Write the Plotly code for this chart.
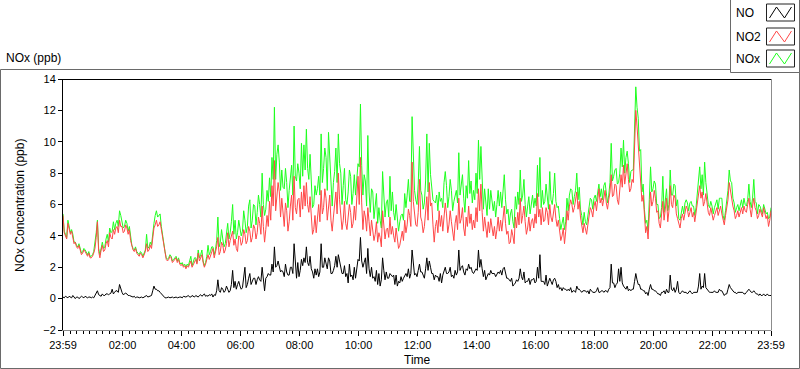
import plotly.graph_objects as go
import pandas as pd

# ---------------- data (2.5-minute samples, 23:59 -> 23:59) ----------------
START = "2013-06-01 23:59"
STEP = "150s"

no2 = [
    5.3,4.2,4.0,3.8,4.8,4.5,4.1,4.3,3.9,3.5,3.6,3.3,3.2,3.4,3.1,2.8,2.9,3.1,3.0,2.8,2.7,2.9,2.6,2.6,
    2.7,2.9,3.2,3.9,4.9,3.0,2.6,3.1,3.4,3.0,3.1,3.5,3.7,3.3,4.2,3.9,3.8,4.4,4.1,4.5,4.6,4.2,5.0,4.6,
    4.6,4.2,4.3,4.7,4.5,4.1,4.4,3.7,3.3,3.1,3.0,3.2,2.9,2.8,2.7,2.9,2.8,2.6,2.8,3.0,3.5,3.0,3.1,3.4,
    3.2,3.9,4.5,4.7,5.0,4.6,4.7,4.9,4.4,3.8,3.3,2.9,2.5,2.4,2.5,2.7,2.6,2.3,2.4,2.5,2.6,2.3,2.5,2.2,
    2.1,2.2,2.0,2.1,1.9,2.1,2.0,2.2,2.4,2.0,2.2,2.4,2.5,2.2,2.9,2.4,2.6,2.8,2.3,2.0,2.2,2.5,2.8,2.5,
    2.7,3.0,3.2,2.6,2.9,3.3,3.9,2.8,3.0,3.6,3.4,2.9,3.1,3.5,4.2,3.3,3.7,4.0,4.3,3.4,3.8,3.2,3.0,4.0,
    3.9,3.4,3.6,4.4,4.1,3.5,3.7,4.6,4.3,3.6,3.9,4.7,4.5,3.8,4.2,5.2,4.8,4.1,5.9,4.6,3.6,4.4,5.3,4.6,
    6.2,5.0,7.2,5.9,8.8,5.6,6.3,7.4,6.8,5.2,6.4,5.4,4.6,6.1,5.6,4.3,4.9,5.9,6.6,5.0,7.8,5.8,5.4,6.3,
    6.4,5.2,6.8,5.7,7.2,5.9,7.4,6.0,5.5,6.5,5.0,4.1,4.4,5.3,4.2,5.1,6.0,4.9,6.9,5.4,5.8,7.0,6.4,5.0,
    5.7,6.6,5.0,4.3,5.2,6.0,6.8,5.4,8.0,6.3,5.5,4.4,5.0,6.2,4.8,4.4,5.2,6.0,5.5,4.5,4.8,5.9,5.0,6.1,
    7.8,6.0,9.0,6.1,4.4,5.6,5.2,4.3,5.8,4.9,4.0,5.0,4.4,3.7,4.1,4.9,3.6,4.2,3.9,3.3,5.6,4.5,3.8,4.4,
    4.5,3.9,5.2,4.1,4.6,4.0,3.6,4.5,3.9,3.2,3.4,3.9,4.3,3.7,5.0,4.2,4.7,5.7,5.3,4.6,8.7,6.2,5.4,4.7,
    4.6,5.5,7.6,5.2,4.9,4.2,4.6,5.6,6.5,5.0,7.4,5.9,6.1,4.7,3.6,4.6,5.0,4.2,5.6,4.6,5.3,4.3,5.0,6.1,
    5.4,4.2,4.7,5.6,4.9,4.1,3.7,4.8,5.3,4.4,6.4,4.8,5.1,5.8,4.5,4.0,5.2,4.6,5.9,4.8,5.4,4.4,5.0,4.5,
    5.8,4.9,7.0,5.6,7.3,5.5,4.3,5.2,4.5,3.9,4.9,4.2,5.1,4.4,4.0,4.6,3.8,4.4,5.2,4.3,5.0,4.3,5.4,5.9,
    4.8,4.1,4.3,3.5,3.6,4.4,4.0,3.5,5.2,4.5,5.5,4.7,6.4,4.8,5.3,5.9,4.9,4.1,4.5,5.2,4.3,4.9,5.1,4.5,
    5.4,4.8,6.7,5.2,5.7,4.7,5.8,4.9,5.0,5.8,5.5,4.7,6.0,5.2,4.9,5.5,6.0,5.1,4.6,5.0,4.2,3.7,4.0,4.5,
    3.5,4.3,5.6,5.0,5.9,6.3,6.0,5.5,5.8,6.2,6.8,5.7,6.2,5.2,4.6,4.2,4.8,4.4,4.1,4.7,5.3,5.8,5.6,5.2,
    5.9,6.2,5.6,6.3,7.0,6.1,6.4,5.9,6.6,6.9,6.1,5.7,6.3,6.8,7.9,6.5,6.6,7.3,7.2,6.3,6.0,6.9,7.9,7.1,
    8.5,7.3,8.0,8.6,7.6,6.8,7.0,7.6,7.4,9.5,12.0,11.0,9.8,8.4,7.2,6.2,6.6,5.2,4.2,4.6,3.8,5.4,6.8,5.9,
    6.2,6.9,6.4,5.5,5.6,4.8,4.5,5.4,6.2,5.0,5.6,6.4,4.9,5.6,7.2,6.0,5.8,6.6,6.4,5.4,5.1,4.7,4.5,5.1,
    5.4,5.0,5.6,5.9,5.7,5.2,5.5,5.8,5.2,5.5,4.9,5.4,6.1,6.7,7.2,6.4,6.8,5.9,6.2,6.7,5.9,5.5,5.3,5.8,
    5.4,5.0,5.3,5.6,5.8,5.3,5.6,5.9,5.4,5.0,4.7,5.3,5.8,6.3,7.4,6.8,6.4,5.9,5.6,5.1,5.3,5.6,5.2,5.5,
    5.8,5.4,5.9,5.6,5.5,6.0,6.4,5.7,5.2,5.9,6.4,5.8,5.6,5.1,5.3,5.7,5.4,5.2,5.8,5.4,5.1,5.3,4.6,5.0,5.6,
]

nox = [
    5.4,4.3,4.1,3.9,5.0,4.6,4.2,4.4,4.1,3.6,3.6,3.4,3.3,3.5,3.2,2.9,3.0,3.2,3.1,2.9,2.8,3.0,2.7,2.7,
    2.8,3.0,3.5,4.2,5.0,3.2,2.8,3.3,3.6,3.2,3.3,3.8,4.1,3.6,4.5,4.2,4.3,4.9,4.4,4.8,5.0,4.6,5.6,5.3,
    4.9,4.5,4.6,5.0,4.8,4.3,4.6,3.8,3.4,3.2,3.1,3.3,3.0,2.9,2.8,3.0,2.9,2.7,2.9,3.1,4.1,3.2,3.3,3.6,
    3.4,4.4,4.8,5.3,5.6,5.2,5.3,5.4,4.6,4.0,3.4,3.0,2.6,2.5,2.6,2.8,2.7,2.4,2.5,2.6,2.7,2.4,2.6,2.3,
    2.2,2.3,2.1,2.2,2.0,2.2,2.1,2.4,2.7,2.1,2.3,2.6,2.6,2.3,3.1,2.6,2.8,3.1,2.4,2.1,2.3,2.7,3.4,2.8,
    3.0,3.3,3.3,2.8,3.1,3.7,5.2,3.3,3.6,4.4,3.8,3.3,3.5,4.1,4.8,3.8,4.2,4.9,6.0,4.1,5.0,3.8,4.2,5.0,
    4.6,4.0,4.3,5.6,5.0,4.2,4.6,5.9,6.3,4.5,5.0,6.0,5.9,4.7,5.5,6.6,6.0,5.2,8.0,6.0,5.3,5.7,6.9,6.2,
    7.7,6.5,9.0,7.6,12.2,7.6,9.2,9.8,8.7,6.9,8.2,7.1,7.0,8.3,7.4,5.8,6.9,7.9,8.5,6.6,11.0,7.8,7.5,8.6,
    8.0,7.0,9.9,7.8,9.8,8.2,10.8,8.3,7.6,9.2,7.0,5.8,6.0,7.2,6.6,7.0,7.8,6.6,10.5,7.4,8.3,9.6,9.0,6.9,
    10.6,9.0,7.1,5.9,7.4,8.1,9.6,7.4,10.5,8.6,8.0,6.0,7.2,8.3,6.3,6.0,6.8,8.2,7.8,6.0,6.7,7.9,6.6,8.0,
    8.6,8.4,12.4,8.5,6.6,7.9,7.5,5.9,10.4,6.8,5.5,7.0,6.8,5.1,6.0,6.7,4.8,5.8,5.0,4.5,8.1,6.3,5.2,6.1,
    6.3,5.2,7.8,5.6,6.8,5.5,5.0,6.0,5.1,4.3,4.9,5.3,5.4,5.0,6.7,5.8,6.6,7.6,6.2,6.2,11.6,8.4,6.9,6.3,
    6.0,7.3,9.7,6.9,6.6,5.7,6.1,7.5,10.5,6.8,9.9,7.9,7.0,6.3,6.2,6.1,6.6,5.6,6.8,6.2,6.4,5.8,7.4,8.1,
    7.2,5.8,6.5,7.6,6.9,5.6,6.2,6.6,6.9,6.1,9.3,6.6,7.4,7.9,6.4,5.5,7.2,6.4,8.8,6.7,7.5,6.1,6.9,6.3,
    8.0,6.7,10.1,7.6,9.7,7.4,5.7,7.0,6.0,5.3,7.0,5.7,6.9,6.0,5.6,6.2,5.2,6.0,6.9,5.9,6.8,5.8,7.3,7.9,
    6.3,5.4,5.7,4.7,5.4,5.7,4.9,4.5,6.5,5.7,6.8,6.0,8.2,6.2,6.6,7.6,6.0,5.2,5.9,6.5,5.4,6.1,6.6,5.8,
    6.4,5.9,8.5,6.5,9.0,5.8,6.9,6.0,6.2,7.3,6.4,5.7,8.1,6.3,6.0,6.7,8.0,6.2,5.8,5.9,5.1,4.4,4.8,5.2,
    4.4,4.9,6.4,5.6,6.6,7.0,6.9,6.0,6.5,6.9,8.0,6.3,7.1,5.7,5.3,4.7,5.5,4.9,4.7,5.2,6.0,6.4,6.3,5.7,
    6.4,6.6,6.2,6.8,7.3,6.5,7.0,6.3,7.2,7.4,6.5,6.1,6.6,7.4,9.9,7.5,7.8,8.2,8.3,7.3,7.4,8.0,9.6,8.4,
    10.1,8.0,9.0,9.4,8.6,7.4,8.1,8.2,8.2,10.6,13.5,12.2,11.5,9.4,9.5,6.8,7.3,5.7,4.8,5.0,4.3,6.3,8.4,6.8,
    7.0,7.5,7.3,6.0,6.0,5.1,5.2,5.8,7.8,5.5,6.5,7.0,5.6,6.0,8.2,6.6,6.6,7.3,7.2,5.9,6.3,5.1,5.0,5.5,
    5.9,5.4,6.1,6.3,6.1,5.6,6.1,6.2,5.9,5.9,5.3,5.8,6.6,7.5,8.4,7.0,7.9,6.6,8.7,7.4,6.6,6.0,5.8,6.2,
    5.9,5.4,5.8,6.0,6.3,5.7,6.4,6.4,6.4,5.3,5.0,5.6,6.4,6.9,8.2,7.5,7.4,6.4,6.1,5.5,5.8,6.0,5.6,5.9,
    6.3,5.8,6.4,6.0,5.9,6.3,7.3,6.2,5.8,6.4,7.6,6.2,6.1,5.4,6.0,5.9,5.7,5.4,6.0,5.6,5.4,5.5,5.1,5.2,5.8,
]

no = [
    0.1,0.05,0.15,0.1,0.05,0.15,0.1,0.05,0.2,0.1,0.0,0.1,0.1,0.0,0.05,0.15,0.1,0.05,0.15,0.1,0.05,0.1,0.1,0.05,
    0.1,0.05,0.2,0.3,0.5,0.25,0.2,0.15,0.3,0.2,0.2,0.3,0.3,0.25,0.3,0.35,0.6,0.3,0.4,0.5,0.5,0.4,0.9,0.6,
    0.4,0.25,0.3,0.35,0.3,0.2,0.2,0.15,0.1,0.1,0.15,0.05,0.1,0.1,0.05,0.1,0.1,0.05,0.1,0.15,0.2,0.1,0.15,0.2,
    0.2,0.5,0.8,0.6,0.6,0.5,0.5,0.4,0.3,0.2,0.1,0.05,0.05,0.1,0.1,0.05,0.1,0.1,0.05,0.1,0.1,0.05,0.1,0.1,
    0.1,0.05,0.15,0.1,0.1,0.15,0.2,0.1,0.1,0.2,0.15,0.1,0.2,0.15,0.1,0.2,0.25,0.15,0.2,0.3,0.15,0.2,0.15,0.25,
    0.2,0.3,0.1,0.25,0.2,0.5,1.2,0.5,0.4,0.7,0.6,0.4,0.5,0.8,0.6,0.4,0.5,0.9,1.8,0.7,1.1,0.6,0.9,1.1,
    0.8,0.6,0.7,1.2,2.0,0.7,0.9,1.3,1.6,0.9,1.1,1.3,1.3,0.9,1.2,1.4,1.2,1.1,2.0,1.4,0.5,1.3,1.4,1.6,
    1.5,1.5,2.2,1.7,3.3,2.0,2.1,2.4,2.0,1.7,1.8,1.7,1.4,2.2,1.7,1.5,1.5,2.0,2.0,1.6,3.5,2.0,1.3,2.3,
    1.4,1.8,2.5,2.1,2.6,2.3,3.3,2.3,2.1,2.7,1.9,1.7,1.3,1.9,1.5,1.9,1.4,1.7,3.5,2.0,2.0,2.6,2.2,1.9,
    2.6,2.4,1.6,1.6,1.8,2.1,2.7,2.0,2.8,2.3,1.8,1.6,1.6,2.1,1.4,1.6,1.0,2.2,1.4,1.5,1.2,2.0,1.3,1.9,
    2.5,2.4,3.9,2.4,2.0,2.3,2.6,1.6,3.2,1.9,1.4,2.0,1.3,1.4,1.1,1.8,0.9,1.6,0.8,1.2,2.6,1.8,1.2,1.7,
    1.3,1.3,1.6,1.5,1.4,1.5,0.9,1.5,0.8,1.1,1.0,1.4,1.1,1.3,1.5,1.6,1.4,1.9,1.3,1.6,3.1,2.2,1.5,1.6,
    1.4,1.8,2.2,1.7,1.7,1.5,1.3,1.9,2.6,1.8,2.4,2.0,1.6,1.6,1.2,1.5,1.4,1.4,1.1,1.6,1.0,1.5,1.8,2.0,
    1.6,1.6,1.7,2.0,1.4,1.5,1.3,1.8,1.5,1.7,3.1,1.8,2.0,2.1,1.7,1.5,1.9,1.8,2.2,1.9,2.0,1.7,1.6,1.8,
    1.9,1.8,3.1,2.0,2.5,1.9,1.4,1.8,1.2,1.4,1.6,1.5,1.8,1.6,1.6,1.6,1.4,1.6,1.7,1.6,1.8,1.5,1.9,2.0,
    1.5,1.3,1.3,1.2,1.1,1.3,0.8,0.9,1.0,1.2,1.1,1.3,1.9,1.4,1.2,1.7,1.0,1.1,1.1,1.3,0.9,1.2,1.2,1.3,
    1.0,1.1,2.0,1.3,2.8,1.1,1.1,1.1,0.9,1.5,0.8,1.0,1.3,1.1,0.9,1.2,1.3,1.1,0.7,0.9,0.6,0.7,0.5,0.7,
    0.6,0.6,0.5,0.6,0.5,0.7,0.4,0.5,0.5,0.4,0.8,0.6,0.6,0.5,0.4,0.5,0.5,0.5,0.4,0.5,0.3,0.6,0.5,0.4,
    0.4,0.4,0.5,0.7,0.4,0.4,0.5,0.5,0.4,0.5,0.5,0.4,0.6,0.7,2.2,1.0,1.0,0.7,0.9,1.0,1.9,1.1,2.0,1.0,
    0.8,0.7,0.6,0.8,0.5,0.6,0.5,0.6,0.6,1.1,1.6,1.2,0.9,0.9,0.6,0.6,0.5,0.5,0.3,0.4,0.2,0.6,0.9,0.6,
    0.6,0.5,0.5,0.4,0.3,0.3,0.2,0.4,0.4,0.5,0.3,0.6,0.4,0.4,1.5,0.6,0.5,0.7,0.4,0.6,1.1,0.4,0.3,0.4,
    0.5,0.4,0.4,0.4,0.3,0.4,0.5,0.4,0.3,0.4,0.4,0.4,0.4,0.8,1.6,0.6,0.8,0.7,1.6,0.7,0.6,0.5,0.4,0.4,
    0.4,0.4,0.5,0.4,0.4,0.4,0.6,0.5,0.5,0.3,0.2,0.3,0.3,0.6,0.9,0.7,0.6,0.5,0.4,0.4,0.3,0.4,0.4,0.4,
    0.4,0.4,0.3,0.3,0.4,0.5,0.6,0.5,0.4,0.4,0.5,0.4,0.3,0.3,0.2,0.3,0.2,0.2,0.3,0.2,0.2,0.3,0.2,0.2,0.2,
]

tick_times = ["2013-06-01 23:59", "2013-06-02 02:00", "2013-06-02 04:00",
              "2013-06-02 06:00", "2013-06-02 08:00", "2013-06-02 10:00",
              "2013-06-02 12:00", "2013-06-02 14:00", "2013-06-02 16:00",
              "2013-06-02 18:00", "2013-06-02 20:00", "2013-06-02 22:00",
              "2013-06-02 23:59"]
tick_labels = ["23:59", "02:00", "04:00", "06:00", "08:00", "10:00", "12:00",
               "14:00", "16:00", "18:00", "20:00", "22:00", "23:59"]
y_ticks = [-2, 0, 2, 4, 6, 8, 10, 12, 14]

series_colors = {"NO": "#000000", "NO2": "#ff4747", "NOx": "#1eff1e"}

# ---------------- figure ----------------
n_points = max(len(no2), len(nox), len(no))
times = pd.date_range(START, periods=n_points, freq=STEP)
x_end = pd.Timestamp(START) + pd.Timedelta(minutes=1440)
minor_ticks = pd.date_range("2013-06-02 00:00", "2013-06-02 23:59", freq="800s")

W, H = 800, 369
L, R, T, B = 63, 29, 79, 39
PW, PH = W - L - R, H - T - B


def xp(px):
    return (px - L) / PW


def yp(py):
    return (T + PH - py) / PH


FONT = "Liberation Sans, Arial, sans-serif"

fig = go.Figure()
fig.add_trace(go.Scatter(x=times[:len(nox)], y=nox, mode="lines", name="NOx",
                         line=dict(color=series_colors["NOx"], width=1)))
fig.add_trace(go.Scatter(x=times[:len(no2)], y=no2, mode="lines", name="NO2",
                         line=dict(color=series_colors["NO2"], width=1)))
fig.add_trace(go.Scatter(x=times[:len(no)], y=no, mode="lines", name="NO",
                         line=dict(color=series_colors["NO"], width=1)))

shapes = []
# outer panel
shapes.append(dict(type="rect", xref="paper", yref="paper", layer="below",
                   x0=xp(0.5), x1=xp(799.5), y0=yp(368.5), y1=yp(69.5),
                   line=dict(color="#6a6a6a", width=1), fillcolor="white"))
# legend box
shapes.append(dict(type="rect", xref="paper", yref="paper",
                   x0=xp(730.5), x1=xp(799.5), y0=yp(72.5), y1=yp(-1),
                   line=dict(color="#6a6a6a", width=1), fillcolor="white"))
# plot frame: top black, right gray
shapes.append(dict(type="line", xref="paper", yref="paper",
                   x0=xp(62.5), x1=xp(771.5), y0=yp(79.5), y1=yp(79.5),
                   line=dict(color="black", width=1)))
shapes.append(dict(type="line", xref="paper", yref="paper",
                   x0=xp(771.5), x1=xp(771.5), y0=yp(79.5), y1=yp(330.5),
                   line=dict(color="#8c8c8c", width=1)))

annotations = []
legend_rows = [("NO", 13), ("NO2", 37), ("NOx", 59)]
for name, cy in legend_rows:
    annotations.append(dict(xref="paper", yref="paper", x=xp(734), y=yp(cy),
                            xanchor="left", yanchor="middle", showarrow=False,
                            text=name, font=dict(family=FONT, size=12, color="black")))
    bx0, bx1, by0, by1 = 766.5, 794.5, cy - 9, cy + 8
    shapes.append(dict(type="rect", xref="paper", yref="paper",
                       x0=xp(bx0), x1=xp(bx1), y0=yp(by1), y1=yp(by0),
                       line=dict(color="#222222", width=1), fillcolor="white"))
    pts = [(bx0 + 3, by1 - 3), (bx0 + 10, by0 + 3), (bx0 + 18, by1 - 3), (bx1 - 3, by0 + 3)]
    path = "M " + " L ".join(f"{xp(a):.5f},{yp(b):.5f}" for a, b in pts)
    shapes.append(dict(type="path", xref="paper", yref="paper", path=path,
                       line=dict(color=series_colors[name], width=1)))

annotations.append(dict(xref="paper", yref="paper", x=xp(4), y=yp(58),
                        xanchor="left", yanchor="middle", showarrow=False,
                        text="NOx (ppb)", font=dict(family=FONT, size=12, color="black")))
annotations.append(dict(xref="paper", yref="paper", x=xp(418), y=yp(360),
                        xanchor="center", yanchor="middle", showarrow=False,
                        text="Time", font=dict(family=FONT, size=12, color="black")))
annotations.append(dict(xref="paper", yref="paper", x=xp(20), y=yp(206),
                        xanchor="center", yanchor="middle", showarrow=False, textangle=-90,
                        text="NOx Concentration (ppb)",
                        font=dict(family=FONT, size=12, color="black")))

fig.update_layout(
    width=W, height=H,
    margin=dict(l=L, r=R, t=T, b=B),
    paper_bgcolor="white", plot_bgcolor="white",
    showlegend=False,
    hovermode=False,
    font=dict(family=FONT, size=11, color="black"),
    shapes=shapes, annotations=annotations,
    xaxis=dict(
        range=[times[0], x_end], tickmode="array",
        tickvals=tick_times, ticktext=tick_labels,
        ticks="outside", ticklen=5, tickcolor="black", tickwidth=1,
        showline=True, linecolor="#8c8c8c", linewidth=1,
        showgrid=False, zeroline=False,
        tickfont=dict(family=FONT, size=11, color="black"),
        minor=dict(tickmode="array", tickvals=list(minor_ticks), ticks="outside",
                   ticklen=3, tickcolor="black", showgrid=False),
    ),
    yaxis=dict(
        range=[-2, 14], tickmode="array", tickvals=y_ticks,
        ticks="outside", ticklen=4, tickcolor="black",
        showline=True, linecolor="black", linewidth=1,
        showgrid=False, zeroline=False,
        tickfont=dict(family=FONT, size=11, color="black"),
    ),
)

fig.write_html("out.html",
               config={"displayModeBar": False, "staticPlot": True},
               post_script="document.body.style.margin='0px';document.body.style.overflow='hidden';")
